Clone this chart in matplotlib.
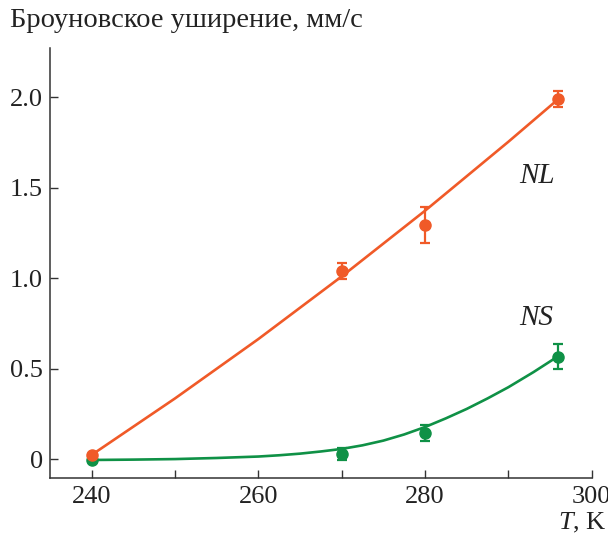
import matplotlib
matplotlib.use("Agg")
import matplotlib.pyplot as plt
from matplotlib.ticker import FixedFormatter, FixedLocator

# measured points (T, K) with error bars
temps = [240, 270, 280, 296]
nl_vals = [0.024, 1.04, 1.295, 1.99]
nl_err = [0.0, 0.046, 0.10, 0.045]
ns_vals = [-0.004, 0.03, 0.145, 0.567]
ns_err = [0.0, 0.033, 0.044, 0.07]

# fitted curves
nl_fit_t = [240, 250, 260, 270, 280, 290, 296]
nl_fit_v = [0.024, 0.336, 0.664, 1.010, 1.373, 1.754, 1.99]
ns_fit_t = [240, 245, 250, 255, 260, 262.5, 265, 267.5, 270, 272.5, 275,
            277.5, 280, 282.5, 285, 287.5, 290, 293, 296]
ns_fit_v = [-0.004, -0.002, 0.001, 0.007, 0.015, 0.022, 0.031, 0.043, 0.057,
            0.077, 0.103, 0.137, 0.178, 0.226, 0.278, 0.336, 0.398, 0.481, 0.570]

y_ticks = [0, 0.5, 1.0, 1.5, 2.0]
y_labels = ["0", "0.5", "1.0", "1.5", "2.0"]

orange = "#f05a28"
green = "#0f9146"

plt.rcParams["font.family"] = ["Liberation Serif", "DejaVu Serif"]
plt.rcParams["mathtext.fontset"] = "custom"
plt.rcParams["mathtext.it"] = "Liberation Serif:italic"
plt.rcParams["mathtext.rm"] = "Liberation Serif"

fig = plt.figure(figsize=(6.08, 5.37), dpi=100)
ax = fig.add_axes([0.0822, 0.1104, 0.891, 0.8002])

ax.plot(nl_fit_t, nl_fit_v, color=orange, lw=1.9, zorder=2)
ax.plot(ns_fit_t, ns_fit_v, color=green, lw=1.9, zorder=2)

ax.errorbar(temps, ns_vals, yerr=ns_err, fmt="o", color=green, ms=8,
            elinewidth=1.6, capsize=3.5, capthick=1.6, zorder=3)
ax.errorbar(temps, nl_vals, yerr=nl_err, fmt="o", color=orange, ms=8,
            elinewidth=1.6, capsize=3.5, capthick=1.6, zorder=4)

ax.text(293.4, 1.565, "NL", fontsize=21, style="italic", ha="center", va="center", color="#222222")
ax.text(293.4, 0.78, "NS", fontsize=21, style="italic", ha="center", va="center", color="#222222")

ax.set_xlim(235, 300)
ax.set_ylim(-0.102, 2.272)

ax.xaxis.set_major_locator(FixedLocator([240, 260, 280, 300]))
ax.xaxis.set_minor_locator(FixedLocator([250, 270, 290]))
ax.yaxis.set_major_locator(FixedLocator(y_ticks))
ax.yaxis.set_major_formatter(FixedFormatter(y_labels))

for s in ["top", "right"]:
    ax.spines[s].set_visible(False)
for s in ["left", "bottom"]:
    ax.spines[s].set_color("#333333")
    ax.spines[s].set_linewidth(1.1)

ax.tick_params(which="both", direction="in", length=6, width=1.0, color="#333333",
               labelsize=19, labelcolor="#222222")
ax.tick_params(axis="x", pad=6)
ax.tick_params(axis="y", pad=5)

fig.text(0.016, 0.962, "Броуновское уширение, мм/с", fontsize=20.5, ha="left", va="center",
         color="#222222")
fig.text(0.997, 0.027, "$T$, K", fontsize=19, ha="right", va="center", color="#222222")

fig.savefig("out.png", dpi=100)
